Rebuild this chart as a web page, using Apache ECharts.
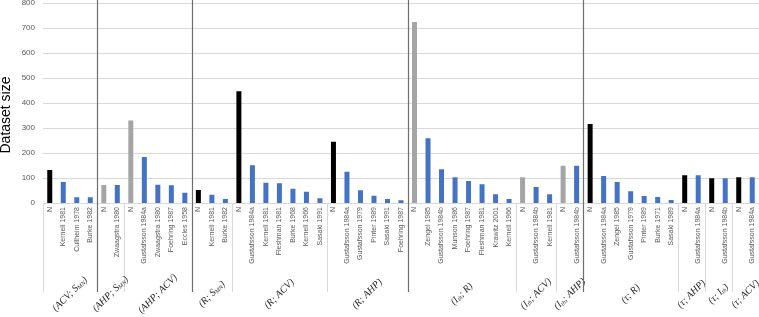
<!DOCTYPE html>
<html>
<head>
<meta charset="utf-8">
<script src="https://cdn.jsdelivr.net/npm/echarts@6/dist/echarts.min.js"></script>
<style>
  html, body { margin: 0; padding: 0; background: #fff; }
  #chart { width: 759px; height: 317px; }
</style>
</head>
<body>
<div id="chart"></div>
<script>
// group labels (rich text: {s|..} is a subscript), group sizes and N-bar kind
const groupLabels = [
  '(ACV; S{s|MN})', '(AHP; S{s|MN})', '(AHP; ACV)', '(R; S{s|MN})', '(R; ACV)', '(R; AHP)',
  '(I{s|th}; R)', '(I{s|th}; ACV)', '(I{s|th}; AHP)', '(τ; R)', '(τ; AHP)', '(τ; I{s|th})', '(τ; ACV)'
];
const groupSizes = [4, 2, 5, 3, 7, 6, 8, 3, 2, 7, 2, 2, 2];
const groupKind = ['meas', 'pool', 'pool', 'meas', 'meas', 'meas', 'pool', 'pool', 'pool', 'meas', 'meas', 'meas', 'meas'];
// groups after which a dark separator runs through the plot
const majorBreaks = [0, 2, 5, 8];

const categories = [
  'N', 'Kernell 1981', 'Cullheim 1978', 'Burke 1982',
  'N', 'Zwaagstra 1980',
  'N', 'Gustafsson 1984a', 'Zwaagstra 1980', 'Foehring 1987', 'Eccles 1958',
  'N', 'Kernell 1981', 'Burke 1982',
  'N', 'Gustafsson 1984a', 'Kernell 1981', 'Fleshman 1981', 'Burke 1968', 'Kernell 1966', 'Sasaki 1991',
  'N', 'Gustafsson 1984a', 'Gustafsson 1979', 'Pinter 1989', 'Sasaki 1991', 'Foehring 1987',
  'N', 'Zengel 1985', 'Gustafsson 1984b', 'Munson 1986', 'Foehring 1987', 'Fleshman 1981', 'Krawitz 2001', 'Kernell 1966',
  'N', 'Gustafsson 1984b', 'Kernell 1981',
  'N', 'Gustafsson 1984b',
  'N', 'Gustafsson 1984a', 'Zengel 1985', 'Gustafsson 1979', 'Pinter 1989', 'Burke 1971', 'Sasaki 1989',
  'N', 'Gustafsson 1984a',
  'N', 'Gustafsson 1984b',
  'N', 'Gustafsson 1984a'
];
const values = [
  132, 84, 23, 23,
  72, 72,
  330, 184, 73, 71, 41,
  52, 33, 16,
  447, 151, 81, 79, 57, 45, 19,
  245, 125, 51, 29, 16, 11,
  724, 259, 135, 103, 88, 75, 35, 16,
  103, 64, 35,
  149, 149,
  316, 108, 84, 47, 28, 24, 12,
  111, 111,
  99, 99,
  103, 103
];
const yTicks = [0, 100, 200, 300, 400, 500, 600, 700, 800];

const colors = { meas: '#000000', pool: '#a5a5a5', study: '#4472c4' };

// colour each bar: first bar of a group is N
let data = [];
let groupStart = [];
let k = 0;
for (var g = 0; g < groupSizes.length; g++) {
  groupStart.push(k);
  for (var j = 0; j < groupSizes[g]; j++) {
    data.push({
      value: values[k],
      itemStyle: { color: j == 0 ? colors[groupKind[g]] : colors.study }
    });
    k++;
  }
}

const chart = echarts.init(document.getElementById('chart'));
chart.setOption({
  animation: false,
  grid: { left: 43, right: 0, top: 3, bottom: 114, outerBoundsMode: 'none' },
  xAxis: {
    type: 'category',
    data: categories,
    axisLine: { lineStyle: { color: '#d9d9d9' } },
    axisTick: { show: false },
    axisLabel: {
      interval: 0, rotate: 90, margin: 4,
      fontSize: 7, color: '#595959', fontFamily: 'Liberation Sans'
    }
  },
  yAxis: {
    type: 'value',
    min: yTicks[0], max: yTicks[yTicks.length - 1], interval: 100,
    name: 'Dataset size',
    nameLocation: 'middle',
    nameGap: 30,
    nameMoveOverlap: false,
    nameTextStyle: { fontSize: 14, color: '#000', fontFamily: 'Liberation Sans', padding: [0, 24, 0, 0] },
    axisLine: { show: false },
    axisTick: { show: false },
    axisLabel: { fontSize: 8, color: '#595959', margin: 8, fontFamily: 'Liberation Sans' },
    splitLine: { lineStyle: { color: '#d9d9d9' } }
  },
  series: [{
    type: 'bar',
    data: data,
    barWidth: 5
  }]
});

// separators and group labels, placed through the axis scales
function catX(i) { return chart.convertToPixel({ xAxisIndex: 0 }, i); }
const yTop = chart.convertToPixel({ yAxisIndex: 0 }, yTicks[yTicks.length - 1]);
const yZero = chart.convertToPixel({ yAxisIndex: 0 }, 0);
const step = catX(1) - catX(0);
const lineBottom = 292;

let graphics = [];
for (var g = 0; g < groupSizes.length; g++) {
  var x = Math.round(catX(0) + (groupStart[g] - 0.5) * step) + 0.5;
  graphics.push({
    type: 'line', silent: true,
    shape: { x1: x, y1: yZero, x2: x, y2: lineBottom },
    style: { stroke: '#d9d9d9', lineWidth: 1 }
  });
}
majorBreaks.forEach(function (g) {
  var start = groupStart[g + 1];
  var x = Math.round(catX(0) + (start - 0.5) * step) + 0.5;
  graphics.push({
    type: 'line', silent: true, z: 10,
    shape: { x1: x, y1: yTop - 3, x2: x, y2: lineBottom },
    style: { stroke: '#6e6e6e', lineWidth: 1.2 }
  });
});
for (var g = 0; g < groupSizes.length; g++) {
  var cx = catX(groupStart[g]) + (groupSizes[g] - 1) / 2 * step;
  graphics.push({
    type: 'text', silent: true,
    x: cx, y: 294, rotation: Math.PI / 4,
    style: {
      text: groupLabels[g],
      align: 'center', verticalAlign: 'middle',
      font: 'italic 10px "Liberation Serif"',
      fill: '#262626',
      rich: { s: { fontSize: 6, fontStyle: 'italic', fontFamily: 'Liberation Serif', verticalAlign: 'bottom', padding: [3, 0, 0, 0] } }
    }
  });
}
chart.setOption({ graphic: graphics });
</script>
</body>
</html>
